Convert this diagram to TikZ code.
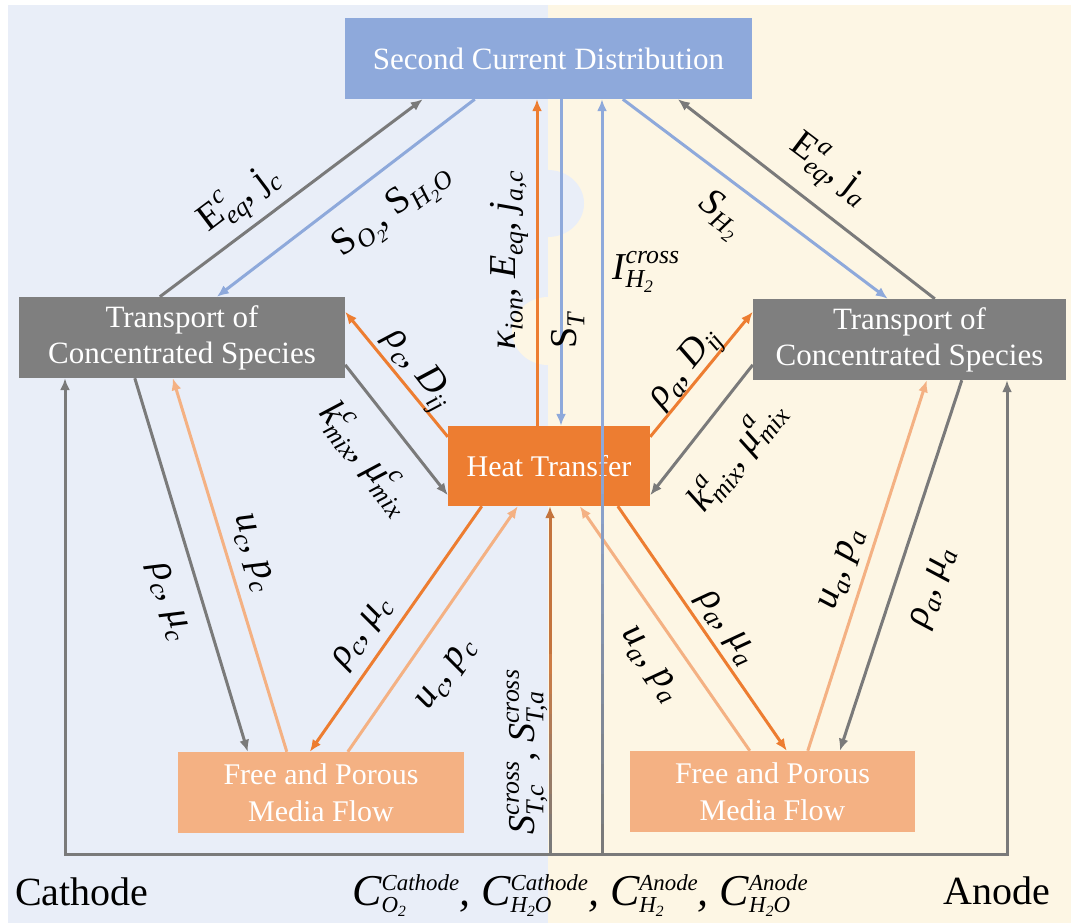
\documentclass[tikz,border=0pt]{standalone}
\usepackage{fontspec}
\setmainfont{Liberation Serif}
\usetikzlibrary{arrows.meta,calc}
\definecolor{cgray}{HTML}{7F7F7F}
\definecolor{lgray}{HTML}{7A7A7A}
\definecolor{cblue}{HTML}{8EA9DB}
\definecolor{corange}{HTML}{ED7D31}
\definecolor{clight}{HTML}{F4B183}
\definecolor{bgblue}{HTML}{E9EEF8}
\definecolor{bgcream}{HTML}{FDF6E4}
\newdimen\sswd
\makeatletter
\newcommand\subx[2][0.68]{\raisebox{-0.2em}{\fontsize{\fpeval{#1*\f@size}}{0}\selectfont #2}}
\newcommand\supsub[3][0.68]{\mbox{\fontsize{\fpeval{#1*\f@size}}{0}\selectfont
  \setbox0\hbox{#2}\setbox2\hbox{#3}%
  \ifdim\wd0>\wd2 \sswd=\wd0 \else \sswd=\wd2 \fi
  \rlap{\raisebox{0.62em}{\box0}}\rlap{\raisebox{-0.32em}{\box2}}\hspace{\sswd}}}
\makeatother
\tikzset{
  box/.style={draw=none, inner sep=0pt, text=white, align=center,
    font=\fontsize{31}{36}\selectfont},
  arr/.style={line width=3pt, -{Latex[length=12pt,width=10pt]}},
  lab/.style={inner sep=0pt, font=\fontsize{38}{44}\selectfont\itshape},
}
\begin{document}
\begin{tikzpicture}[x=1pt,y=-1pt]
\useasboundingbox (0,0) rectangle (1071,923);
% background
\fill[white] (0,0) rectangle (1071,923);
\fill[bgblue] (8,5) rectangle (548,923);
\fill[bgcream] (548,5) rectangle (1071,923);
\fill[bgblue] (548,170) arc[start angle=90,end angle=-90,x radius=36,y radius=-33.5];
\fill[bgcream] (548,297) arc[start angle=90,end angle=270,x radius=36,y radius=-34];

% nodes
\node[box, fill=cblue, minimum width=407pt, minimum height=81pt] (scd) at (548.5,58.5) {Second Current Distribution};
\node[box, fill=cgray, minimum width=326pt, minimum height=81pt] (ltr) at (182,337.5) {Transport of\\Concentrated Species};
\node[box, fill=cgray, minimum width=313pt, minimum height=81pt] (rtr) at (909.5,339.5) {Transport of\\Concentrated Species};
\node[box, fill=corange, minimum width=202pt, minimum height=80pt, font=\fontsize{30}{36}\selectfont] (ht) at (549,466) {Heat Transfer};
\node[box, fill=clight, minimum width=286pt, minimum height=81pt, font=\fontsize{30}{37}\selectfont] (lfp) at (321,792.5) {Free and Porous\\Media Flow};
\node[box, fill=clight, minimum width=285pt, minimum height=81pt, font=\fontsize{30}{37}\selectfont] (rfp) at (772.5,791.5) {Free and Porous\\Media Flow};

\coordinate (bl) at (65,854);
\coordinate (br) at (1007,854);
\coordinate (c550) at (550,854);
\coordinate (c602) at (602,854);

% top connectors
\draw[arr, lgray] ([xshift=141pt]ltr.north west) -- ([xshift=78pt]scd.south west);
\draw[arr, cblue] ([xshift=130pt]scd.south west) -- ([xshift=198pt]ltr.north west);
\draw[arr, corange] ([xshift=-12pt]ht.north) -- ([xshift=-12pt]ht.north |- scd.south);
\draw[arr, cblue] ([xshift=12pt]ht.north |- scd.south) -- ([xshift=12pt]ht.north);
\draw[arr, cblue] ([xshift=278pt]scd.south west) -- ([xshift=135pt]rtr.north west);
\draw[arr, lgray] ([xshift=182pt]rtr.north west) -- ([xshift=333pt]scd.south west);

% middle connectors
\draw[arr, corange] ([yshift=-11pt]ht.north west) -- ([yshift=-15pt]ltr.north east);
\draw[arr, lgray] ([yshift=-68pt]ltr.north east) -- ([yshift=11pt]ht.south west);
\draw[arr, corange] ([yshift=-11pt]ht.north east) -- ([yshift=-13pt]rtr.north west);
\draw[arr, lgray] ([yshift=-66pt]rtr.north west) -- ([yshift=11pt]ht.south east);

% lower left
\draw[arr, lgray] ([xshift=116pt]ltr.south west) -- ([xshift=70pt]lfp.north west);
\draw[arr, clight] ([xshift=109pt]lfp.north west) -- ([xshift=154pt]ltr.south west);
\draw[arr, corange] ([xshift=34pt]ht.south west) -- ([xshift=132pt]lfp.north west);
\draw[arr, clight] ([xshift=170pt]lfp.north west) -- ([xshift=70pt]ht.south west);

% lower right
\draw[arr, clight] ([xshift=120pt]rfp.north west) -- ([xshift=132pt]ht.south west);
\draw[arr, corange] ([xshift=170pt]ht.south west) -- ([xshift=157pt]rfp.north west);
\draw[arr, clight] ([xshift=178pt]rfp.north west) -- ([xshift=174pt]rtr.south west);
\draw[arr, lgray] ([xshift=209pt]rtr.south west) -- ([xshift=210pt]rfp.north west);

% vertical feeds from the bottom loop
\draw[arr, corange!80!black!90] (c550) -- (c550 |- ht.south);
\foreach \i in {0,...,9}{
  \pgfmathsetmacro{\p}{100-\i*8}
  \draw[line width=3pt, color=lgray!\p!corange] ($(c550)+(0,-\i*20)$) -- ($(c550)+(0,-\i*20-20)$);
}
\draw[arr, cblue] (c602) -- (c602 |- scd.south);
\foreach \i in {0,...,12}{
  \pgfmathsetmacro{\p}{100-\i*7.5}
  \draw[line width=3pt, color=lgray!\p!cblue] ($(c602)+(0,-\i*30)$) -- ($(c602)+(0,-\i*30-30)$);
}

% bottom loop
\draw[line width=3pt, lgray, line join=miter, {Latex[length=12pt,width=10pt]}-{Latex[length=12pt,width=10pt]}]
  (bl |- ltr.south) -- (bl) -- (br) -- (br |- rtr.south);

% labels
\node[lab, rotate=37] (l1) at (240,200) {\textup{E}\supsub{c}{eq}, \textup{j}\subx{c}};
\node[lab, rotate=37] (l2) at (393,212) {\textup{S}\subx{O\subx{2}}, \textup{S}\subx{H\subx{2}O}};
\node[lab, rotate=90] (l3) at (509,260) {κ\subx{ion}, E\subx{eq}, j\subx{a,c}};
\node[lab, rotate=90] (l4) at (568,331) {\textup{S}\subx{T}};
\node[lab] (l5) at (646,272) {I\supsub{cross}{H\subx{2}}};
\node[lab, rotate=-36] (l6) at (720,215) {S\subx{H\subx{2}}};
\node[lab, rotate=-37] (l7) at (829,170) {\textup{E}\supsub{a}{eq}, \textup{j}\subx{a}};
\node[lab, rotate=-52] (l8) at (417,370) {ρ\subx{c}, D\subx{ij}};
\node[lab, rotate=-52] (l9) at (366,458) {k\supsub{c}{mix}, μ\supsub{c}{mix}};
\node[lab, rotate=51] (l10) at (686,369) {ρ\subx{a}, D\subx{ij}};
\node[lab, rotate=52] (l11) at (737,456) {k\supsub{a}{mix}, μ\supsub{a}{mix}};
\node[lab, rotate=-73] (l12) at (168,602) {ρ\subx{c}, μ\subx{c}};
\node[lab, rotate=-73] (l13) at (252,553) {u\subx{c}, p\subx{c}};
\node[lab, rotate=55] (l14) at (363,633) {ρ\subx{c}, μ\subx{c}};
\node[lab, rotate=55] (l15) at (447,675) {u\subx{c}, p\subx{c}};
\node[lab, rotate=90] (l16) at (527,752) {S\supsub{cross}{T,c}, S\supsub{cross}{T,a}};
\node[lab, rotate=-55] (l17) at (649,665) {u\subx{a}, p\subx{a}};
\node[lab, rotate=-55] (l18) at (726,628) {ρ\subx{a}, μ\subx{a}};
\node[lab, rotate=72] (l19) at (843,570) {u\subx{a}, p\subx{a}};
\node[lab, rotate=72] (l20) at (934,588) {ρ\subx{a}, μ\subx{a}};

\node[anchor=base west, inner sep=0pt, font=\fontsize{40}{44}\selectfont] (cath) at (15,905) {Cathode};
\node[anchor=base east, inner sep=0pt, font=\fontsize{40}{44}\selectfont] (anod) at (1050,904) {Anode};
\node[anchor=base, inner sep=0pt, font=\fontsize{44}{50}\selectfont\itshape] (cc) at (580,905)
  {C\supsub[0.52]{Cathode}{O\subx{2}}, C\supsub[0.52]{Cathode}{H\subx{2}O}, C\supsub[0.52]{Anode}{H\subx{2}}, C\supsub[0.52]{Anode}{H\subx{2}O}};
\end{tikzpicture}
\end{document}
